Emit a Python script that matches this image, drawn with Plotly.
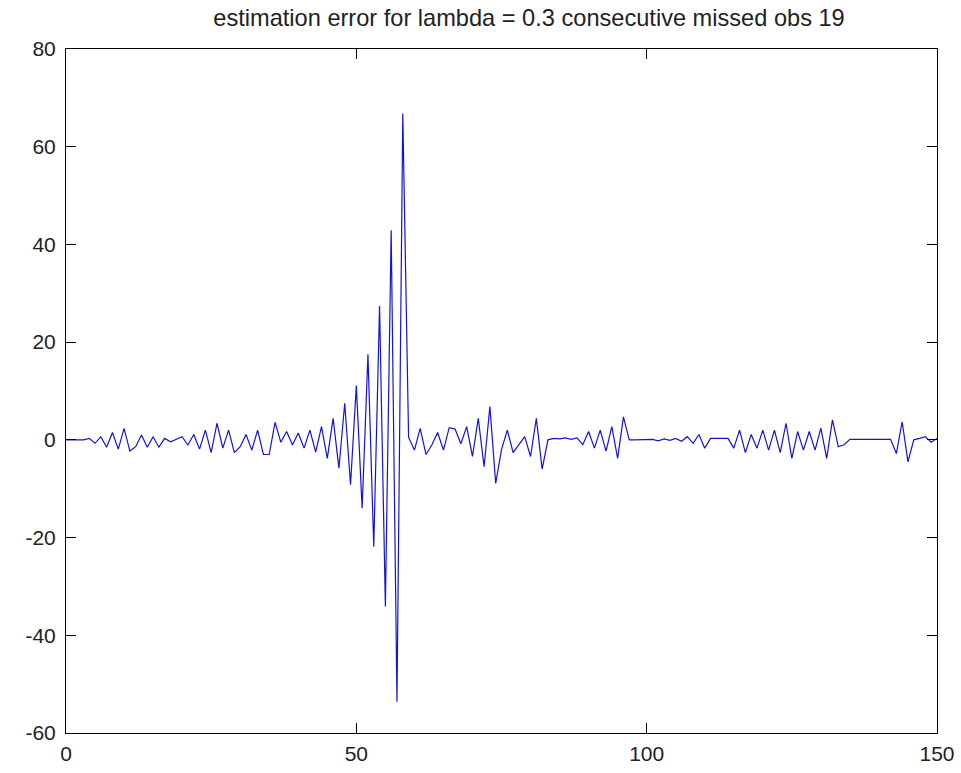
import plotly.graph_objects as go

x_vals = list(range(0, 151))

err_0_38 = [0, 0, 0, 0, 0.3, -0.7, 0.65, -1.5, 1.5, -1.9,
            2.35, -2.3, -1.4, 1.0, -1.5, 0.65, -1.5, 0.3, -0.4, 0.2,
            0.65, -1.05, 1.1, -1.9, 2.0, -2.6, 3.4, -1.7, 2.0, -2.6,
            -1.4, 1.1, -2.1, 2.0, -3.0, -3.0, 3.6, -0.5, 1.7]
err_39_59 = [-1.05, 1.4, -1.7, 2.0, -2.5, 2.7, -3.8, 4.4, -5.8, 7.5,
             -9.2, 11.1, -14.0, 17.5, -21.9, 27.4, -34.1, 42.9, -53.6, 66.8,
             0.5]
err_60_98 = [-2.1, 2.35, -3.0, -1.05, 1.5, -2.1, 2.5, 2.2, -0.8, 2.7,
             -3.4, 4.4, -5.5, 6.8, -8.9, -2.0, 2.0, -2.6, -1.0, 0.65,
             -3.4, 4.4, -6.0, 0.0, 0.3, 0.2, 0.4, 0.1, 0.4, -1.0,
             1.7, -1.7, 2.0, -2.3, 2.7, -3.8, 4.7, 0.0, 0.0]
err_99_150 = [0.0, 0.0, 0.1, -0.2, 0.2, -0.1, 0.3, -0.3, 0.65, -0.7,
              1.1, -1.7, 0.3, 0.3, 0.3, 0.3, -1.7, 2.0, -2.6, 1.1,
              -1.7, 2.0, -2.1, 2.0, -2.6, 3.4, -3.8, 1.7, -2.1, 1.7,
              -2.1, 2.4, -3.8, 4.1, -1.4, -1.0, 0.1, 0.1, 0.1, 0.1,
              0.1, 0.1, 0.1, 0.1, -2.8, 3.7, -4.5, 0.0, 0.3, 0.65,
              -0.5, 0.3]
err = (err_0_38 + err_39_59 + err_60_98 + err_99_150)

x_ticks = [0, 50, 100, 150]
y_ticks = [-60, -40, -20, 0, 20, 40, 60, 80]
title_text = "estimation error for lambda = 0.3 consecutive missed obs 19"

n = min(len(x_vals), len(err))
fig = go.Figure()
fig.add_trace(go.Scatter(x=x_vals[:n], y=err[:n], mode="lines",
                         line=dict(color="#1414d0", width=1.2), showlegend=False,
                         hoverinfo="skip"))

font_fam = "Liberation Sans, Arial, sans-serif"
axis_common = dict(showline=True, linecolor="black", linewidth=1, mirror="allticks",
                   ticks="inside", ticklen=10, tickcolor="black", tickwidth=1,
                   showgrid=False, zeroline=False, automargin=False,
                   tickfont=dict(family=font_fam, size=21, color="#222222"))
fig.update_layout(
    width=961, height=773,
    margin=dict(l=66, r=24, t=49, b=40),
    paper_bgcolor="white", plot_bgcolor="white",
    title=dict(text=title_text, x=0.5316, xanchor="center", xref="paper",
               y=0.977, yref="container", yanchor="middle",
               font=dict(family=font_fam, size=23.6, color="#222222")),
    xaxis=dict(range=[0, 150], tickvals=x_ticks, ticktext=[str(t) for t in x_ticks],
               ticklabelstandoff=2, **axis_common),
    yaxis=dict(range=[-60, 80], tickvals=y_ticks, ticktext=[str(t) for t in y_ticks],
               ticklabelstandoff=5, **axis_common),
)
fig.write_html("out.html")
